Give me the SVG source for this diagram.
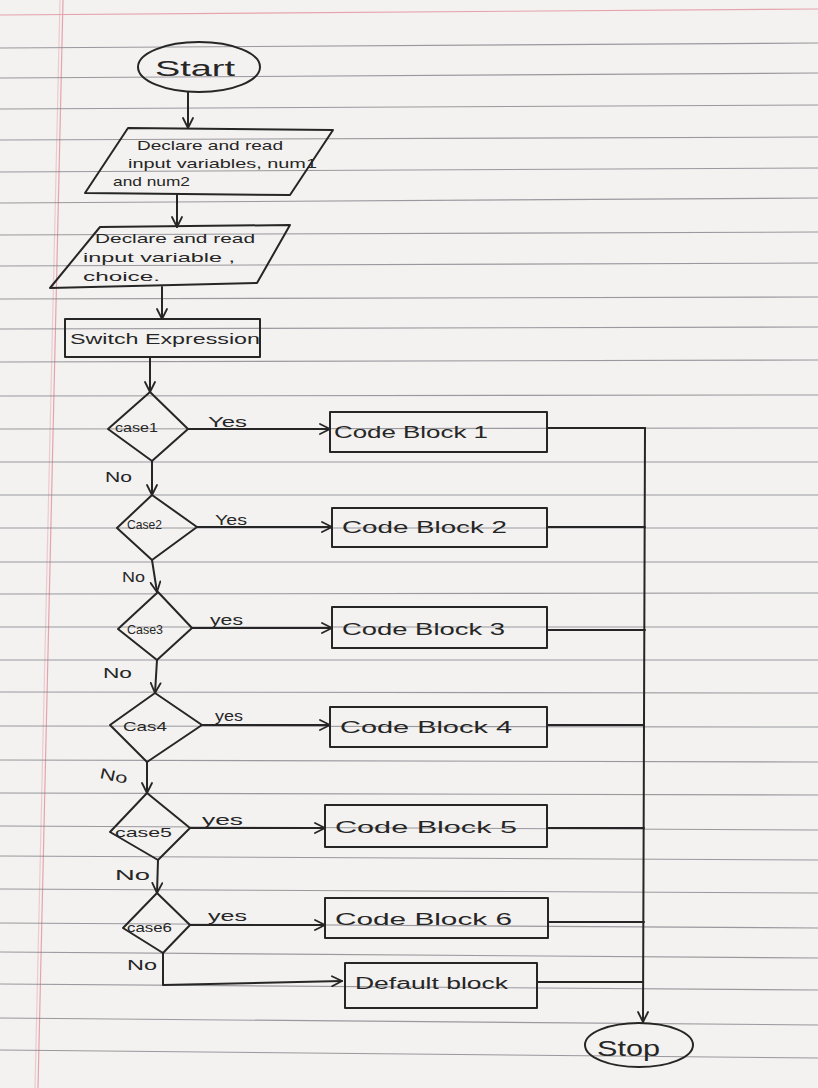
<svg xmlns="http://www.w3.org/2000/svg" width="818" height="1088" viewBox="0 0 818 1088">
<defs>
<style>
.paper{fill:#f3f2f0}
.rule{stroke:#85838a;stroke-width:1.1;fill:none;opacity:0.8}
.margin{stroke:#e6a3ad;stroke-width:1.2;fill:none}
.ink{stroke:#262626;stroke-width:2;fill:none;stroke-linejoin:round;stroke-linecap:round}
.shape{stroke:#262626;stroke-width:2;fill:none;stroke-linejoin:round}
.t{font-family:"Liberation Sans",Arial,sans-serif;fill:#262626}
.big{font-size:22px}
.mid{font-size:16px}
.sm{font-size:13px}
.lbl{font-size:15px}
</style>
<marker id="arr" viewBox="0 0 12 12" refX="11" refY="6" markerWidth="12" markerHeight="12" markerUnits="userSpaceOnUse" orient="auto">
<path d="M1,1 L11,6 L1,11" fill="none" stroke="#262626" stroke-width="1.8" stroke-linecap="round" stroke-linejoin="round"/>
</marker>
</defs>

<g id="paper">
<rect class="paper" x="0" y="0" width="818" height="1088"/>
<path class="margin" d="M0,15 L818,9"/>
<path class="margin" d="M63,0 L38,1088"/>
<path class="margin" d="M60,0 L35,1088" opacity="0.5"/>
<g class="rule">
<path d="M0,48 L818,43"/><path d="M0,78 L818,73"/><path d="M0,109 L818,105"/><path d="M0,140 L818,137"/>
<path d="M0,172 L818,168"/><path d="M0,203 L818,198"/><path d="M0,235 L818,232"/><path d="M0,266 L818,263"/>
<path d="M0,299 L818,297"/><path d="M0,329 L818,327"/><path d="M0,362 L818,360"/><path d="M0,396 L818,395"/>
<path d="M0,429 L818,428"/><path d="M0,462 L818,462"/><path d="M0,495 L818,495"/><path d="M0,528 L818,528"/>
<path d="M0,562 L818,562"/><path d="M0,594 L818,593"/><path d="M0,627 L818,627"/><path d="M0,660 L818,660"/>
<path d="M0,692 L818,693"/><path d="M0,726 L818,727"/><path d="M0,760 L818,762"/><path d="M0,793 L818,795"/>
<path d="M0,826 L818,830"/><path d="M0,856 L818,860"/><path d="M0,889 L818,893"/><path d="M0,923 L818,928"/>
<path d="M0,952 L818,958"/><path d="M0,984 L818,990"/><path d="M0,1018 L818,1025"/><path d="M0,1050 L818,1058"/>
</g>
</g>

<g id="connectors">
<path class="ink" d="M188,92 L188,128" marker-end="url(#arr)"/>
<path class="ink" d="M177,195 L177,227" marker-end="url(#arr)"/>
<path class="ink" d="M162,287 L162,319" marker-end="url(#arr)"/>
<path class="ink" d="M150,357 L150,392" marker-end="url(#arr)"/>
<path class="ink" d="M188,429 L330,429" marker-end="url(#arr)"/>
<path class="ink" d="M197,527 L332,527" marker-end="url(#arr)"/>
<path class="ink" d="M192,628 L332,628" marker-end="url(#arr)"/>
<path class="ink" d="M202,725 L330,725" marker-end="url(#arr)"/>
<path class="ink" d="M190,828 L325,828" marker-end="url(#arr)"/>
<path class="ink" d="M190,925 L325,925" marker-end="url(#arr)"/>
<path class="ink" d="M152,461 L152,495" marker-end="url(#arr)"/>
<path class="ink" d="M152,560 L157,592" marker-end="url(#arr)"/>
<path class="ink" d="M157,660 L155,693" marker-end="url(#arr)"/>
<path class="ink" d="M147,762 L147,793" marker-end="url(#arr)"/>
<path class="ink" d="M158,860 L157,893" marker-end="url(#arr)"/>
<path class="ink" d="M163,953 L163,985 L342,981" marker-end="url(#arr)"/>
<path class="ink" d="M547,428 L645,428"/>
<path class="ink" d="M547,527 L645,527"/>
<path class="ink" d="M547,630 L645,630"/>
<path class="ink" d="M547,725 L644,725"/>
<path class="ink" d="M547,828 L644,828"/>
<path class="ink" d="M548,922 L644,922"/>
<path class="ink" d="M537,982 L643,982"/>
<path class="ink" d="M645,428 L643,1022" marker-end="url(#arr)"/>
<text class="t lbl" x="208" y="427" textLength="39" lengthAdjust="spacingAndGlyphs">Yes</text>
<text class="t lbl" x="215" y="525" textLength="32" lengthAdjust="spacingAndGlyphs">Yes</text>
<text class="t lbl" x="210" y="625" textLength="33" lengthAdjust="spacingAndGlyphs">yes</text>
<text class="t lbl" x="215" y="721" textLength="28" lengthAdjust="spacingAndGlyphs">yes</text>
<text class="t lbl" x="202" y="825" textLength="41" lengthAdjust="spacingAndGlyphs">yes</text>
<text class="t lbl" x="208" y="921" textLength="39" lengthAdjust="spacingAndGlyphs">yes</text>
<text class="t lbl" x="105" y="482" textLength="27" lengthAdjust="spacingAndGlyphs">No</text>
<text class="t lbl" x="122" y="582" textLength="23" lengthAdjust="spacingAndGlyphs">No</text>
<text class="t lbl" x="103" y="678" textLength="29" lengthAdjust="spacingAndGlyphs">No</text>
<text class="t lbl" x="100" y="781" textLength="28" lengthAdjust="spacingAndGlyphs" transform="rotate(12 114 775)">No</text>
<text class="t lbl" x="115" y="880" textLength="35" lengthAdjust="spacingAndGlyphs">No</text>
<text class="t lbl" x="127" y="970" textLength="30" lengthAdjust="spacingAndGlyphs">No</text>
</g>

<g id="start">
<ellipse class="shape" cx="199" cy="67" rx="61" ry="25"/>
<text class="t big" x="155" y="76" textLength="80" lengthAdjust="spacingAndGlyphs">Start</text>
</g>

<g id="input1">
<polygon class="shape" points="128,128 333,130 290,195 85,193"/>
<text class="t sm" x="137" y="150" textLength="146" lengthAdjust="spacingAndGlyphs">Declare and read</text>
<text class="t sm" x="128" y="168" textLength="189" lengthAdjust="spacingAndGlyphs">input variables, num1</text>
<text class="t sm" x="113" y="186" textLength="77" lengthAdjust="spacingAndGlyphs">and num2</text>
</g>

<g id="input2">
<polygon class="shape" points="100,227 290,225 257,283 50,288"/>
<text class="t sm" x="95" y="243" textLength="160" lengthAdjust="spacingAndGlyphs">Declare and read</text>
<text class="t sm" x="83" y="262" textLength="152" lengthAdjust="spacingAndGlyphs">input variable ,</text>
<text class="t sm" x="83" y="281" textLength="77" lengthAdjust="spacingAndGlyphs">choice.</text>
</g>

<g id="switch">
<rect class="shape" x="65" y="319" width="195" height="38"/>
<text class="t lbl" x="70" y="344" textLength="190" lengthAdjust="spacingAndGlyphs">Switch Expression</text>
</g>

<g id="case1">
<polygon class="shape" points="150,392 188,429 152,461 108,429"/>
<text class="t sm" x="115" y="432" textLength="43" lengthAdjust="spacingAndGlyphs">case1</text>
</g>
<g id="case2">
<polygon class="shape" points="152,495 197,527 152,560 117,528"/>
<text class="t sm" x="127" y="529" textLength="35" lengthAdjust="spacingAndGlyphs">Case2</text>
</g>
<g id="case3">
<polygon class="shape" points="158,592 192,628 157,660 118,629"/>
<text class="t sm" x="127" y="634" textLength="36" lengthAdjust="spacingAndGlyphs">Case3</text>
</g>
<g id="case4">
<polygon class="shape" points="155,693 202,725 147,762 110,725"/>
<text class="t sm" x="123" y="731" textLength="44" lengthAdjust="spacingAndGlyphs">Cas4</text>
</g>
<g id="case5">
<polygon class="shape" points="147,793 190,828 158,860 110,832"/>
<text class="t sm" x="115" y="837" textLength="57" lengthAdjust="spacingAndGlyphs">case5</text>
</g>
<g id="case6">
<polygon class="shape" points="157,893 190,925 163,953 123,928"/>
<text class="t sm" x="127" y="932" textLength="45" lengthAdjust="spacingAndGlyphs">case6</text>
</g>

<g id="block1">
<rect class="shape" x="330" y="412" width="217" height="40"/>
<text class="t mid" x="334" y="438" textLength="154" lengthAdjust="spacingAndGlyphs">Code Block 1</text>
</g>
<g id="block2">
<rect class="shape" x="332" y="508" width="215" height="39"/>
<text class="t mid" x="342" y="533" textLength="165" lengthAdjust="spacingAndGlyphs">Code Block 2</text>
</g>
<g id="block3">
<rect class="shape" x="332" y="607" width="215" height="41"/>
<text class="t mid" x="342" y="635" textLength="163" lengthAdjust="spacingAndGlyphs">Code Block 3</text>
</g>
<g id="block4">
<rect class="shape" x="330" y="707" width="217" height="40"/>
<text class="t mid" x="340" y="733" textLength="172" lengthAdjust="spacingAndGlyphs">Code Block 4</text>
</g>
<g id="block5">
<rect class="shape" x="325" y="805" width="222" height="42"/>
<text class="t mid" x="335" y="833" textLength="182" lengthAdjust="spacingAndGlyphs">Code Block 5</text>
</g>
<g id="block6">
<rect class="shape" x="325" y="898" width="223" height="40"/>
<text class="t mid" x="335" y="925" textLength="177" lengthAdjust="spacingAndGlyphs">Code Block 6</text>
</g>
<g id="default">
<rect class="shape" x="345" y="963" width="192" height="45"/>
<text class="t mid" x="355" y="989" textLength="153" lengthAdjust="spacingAndGlyphs">Default block</text>
</g>

<g id="stop">
<ellipse class="shape" cx="639" cy="1045" rx="54" ry="22"/>
<text class="t big" x="597" y="1056" font-size="19" textLength="63" lengthAdjust="spacingAndGlyphs">Stop</text>
</g>
</svg>
